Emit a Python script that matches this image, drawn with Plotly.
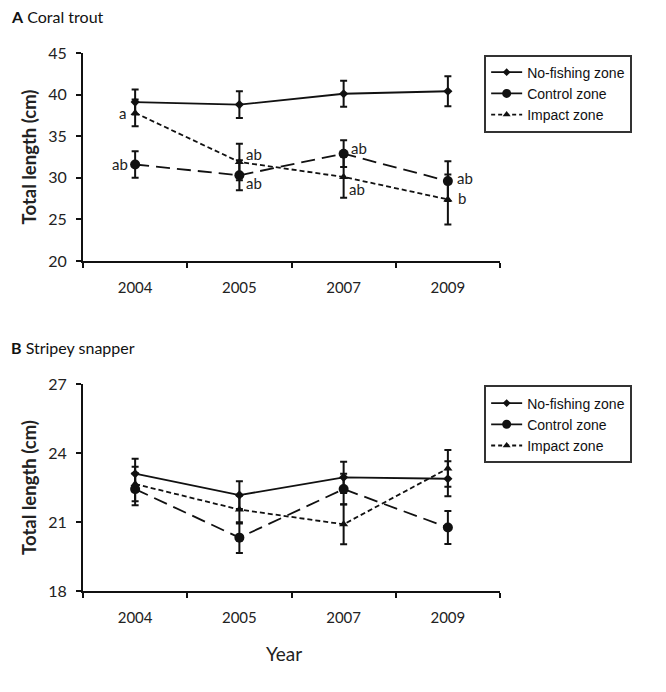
import plotly.graph_objects as go

years = ["2004", "2005", "2007", "2009"]

# Panel A: Coral trout
nf_a = [39.1, 38.8, 40.1, 40.4]
nf_a_err = [1.5, 1.6, 1.55, 1.8]
ctrl_a = [31.6, 30.3, 32.9, 29.6]
ctrl_a_err = [1.6, 1.8, 1.6, 2.4]
imp_a = [37.8, 31.9, 30.1, 27.4]
imp_a_err = [1.6, 2.2, 2.5, 3.0]
ctrl_a_labels = ["ab", "ab", "ab", "ab"]
imp_a_labels = ["a", "ab", "ab", "b"]

# Panel B: Stripey snapper
nf_b = [23.1, 22.17, 22.94, 22.88]
nf_b_err = [0.65, 0.6, 0.68, 0.76]
ctrl_b = [22.43, 20.32, 22.43, 20.76]
ctrl_b_err = [0.7, 0.67, 0.67, 0.72]
imp_b = [22.65, 21.54, 20.9, 23.33]
imp_b_err = [0.75, 0.6, 0.87, 0.8]

names = ["No-fishing zone", "Control zone", "Impact zone"]
symbols = ["diamond", "circle", "triangle-up"]
msizes = [7, 10, 8]
dashes = ["solid", "14px,7px", "5px,3px"]
BLACK = "#111111"

fig = go.Figure()

def add_series(xa, ya, vals, errs, i):
    fig.add_trace(go.Scatter(
        x=years, y=vals, xaxis=xa, yaxis=ya, mode="lines+markers",
        line=dict(color=BLACK, width=1.8, dash=dashes[i]),
        marker=dict(symbol=symbols[i], size=msizes[i], color=BLACK),
        error_y=dict(type="data", array=errs, visible=True, color=BLACK,
                     thickness=2, width=3.5),
        showlegend=False, name=names[i]))

for i, (v, e) in enumerate([(nf_a, nf_a_err), (ctrl_a, ctrl_a_err), (imp_a, imp_a_err)]):
    add_series("x", "y", v, e, i)
for i, (v, e) in enumerate([(nf_b, nf_b_err), (ctrl_b, ctrl_b_err), (imp_b, imp_b_err)]):
    add_series("x2", "y2", v, e, i)

# legend entries (solid in the reference legend except impact)
leg_dash = ["solid", "solid", "4px,3px"]
leg_size = [6, 9, 7]
for lg, xa, ya in [("legend", "x", "y"), ("legend2", "x2", "y2")]:
    for i in range(3):
        fig.add_trace(go.Scatter(
            x=[None], y=[None], xaxis=xa, yaxis=ya, mode="lines+markers",
            line=dict(color=BLACK, width=1.8, dash=leg_dash[i]),
            marker=dict(symbol=symbols[i], size=leg_size[i], color=BLACK),
            name=names[i], legend=lg, showlegend=True))

tickfont = dict(family="Lato", size=16, color="#222")
xfont = dict(family="Lato", size=15, color="#222")
ytitlefont = dict(family="Lato", size=18.5, color="#222")

axis_common = dict(showline=True, linecolor=BLACK, linewidth=2, ticks="outside",
                   tickcolor=BLACK, ticklen=5, tickwidth=2, showgrid=False,
                   zeroline=False)

fig.update_layout(
    width=658, height=684,
    margin=dict(l=75, r=166, t=45, b=101),
    paper_bgcolor="white", plot_bgcolor="white",
    xaxis=dict(domain=[0, 1], anchor="y", type="category", range=[-0.5, 3.5],
               tickson="boundaries", tickfont=xfont, ticklabelstandoff=12,
               **axis_common),
    yaxis=dict(domain=[0.6134, 1], anchor="x", range=[20, 45], dtick=5,
               tickfont=tickfont, ticklabelstandoff=6,
               title=dict(text="<b>Total length (cm)</b>", font=ytitlefont, standoff=7),
               **axis_common),
    xaxis2=dict(domain=[0, 1], anchor="y2", type="category", range=[-0.5, 3.5],
                tickson="boundaries", tickfont=xfont, ticklabelstandoff=12,
                **axis_common),
    yaxis2=dict(domain=[0, 0.3848], anchor="x2", range=[18, 27], dtick=3,
                tickfont=tickfont, ticklabelstandoff=6,
                title=dict(text="<b>Total length (cm)</b>", font=ytitlefont, standoff=7),
                **axis_common),
    legend=dict(x=0.962, y=0.997, xanchor="left", yanchor="top",
                bordercolor="#333", borderwidth=2, bgcolor="white",
                font=dict(family="Liberation Sans", size=14, color="#111"),
                itemwidth=31, tracegroupgap=0),
    legend2=dict(x=0.962, y=0.382, xanchor="left", yanchor="top",
                 bordercolor="#333", borderwidth=2, bgcolor="white",
                 font=dict(family="Liberation Sans", size=14, color="#111"),
                 itemwidth=31, tracegroupgap=0),
)

annfont = dict(family="Lato", size=15, color="#222")
# Panel A significance letters (x given as category index)
# 2004: labels on the left
fig.add_annotation(x=0, y=imp_a[0], xref="x", yref="y", text=imp_a_labels[0],
                   showarrow=False, xanchor="right", xshift=-7, font=annfont)
fig.add_annotation(x=0, y=ctrl_a[0], xref="x", yref="y", text=ctrl_a_labels[0],
                   showarrow=False, xanchor="right", xshift=-5, font=annfont)
# 2005
fig.add_annotation(x=1, y=imp_a[1], xref="x", yref="y", text=imp_a_labels[1],
                   showarrow=False, xanchor="left", xshift=5, yshift=8, font=annfont)
fig.add_annotation(x=1, y=ctrl_a[1], xref="x", yref="y", text=ctrl_a_labels[1],
                   showarrow=False, xanchor="left", xshift=5, yshift=-8, font=annfont)
# 2007
fig.add_annotation(x=2, y=ctrl_a[2], xref="x", yref="y", text=ctrl_a_labels[2],
                   showarrow=False, xanchor="left", xshift=5, yshift=6, font=annfont)
fig.add_annotation(x=2, y=imp_a[2], xref="x", yref="y", text=imp_a_labels[2],
                   showarrow=False, xanchor="left", xshift=3, yshift=-12, font=annfont)
# 2009
fig.add_annotation(x=3, y=ctrl_a[3], xref="x", yref="y", text=ctrl_a_labels[3],
                   showarrow=False, xanchor="left", xshift=7, yshift=3, font=annfont)
fig.add_annotation(x=3, y=imp_a[3], xref="x", yref="y", text=imp_a_labels[3],
                   showarrow=False, xanchor="left", xshift=8, yshift=1, font=annfont)

# Panel titles
fig.add_annotation(x=-0.1775, y=1.067, xref="paper", yref="paper",
                   text="<b>A</b> Coral trout", showarrow=False, xanchor="left",
                   yanchor="middle", font=dict(family="Lato", size=16, color="#111"))
fig.add_annotation(x=-0.1775, y=0.4517, xref="paper", yref="paper",
                   text="<b>B</b> Stripey snapper", showarrow=False, xanchor="left",
                   yanchor="middle", font=dict(family="Lato", size=16, color="#111"))
# X axis title
fig.add_annotation(x=0.483, y=-0.117, xref="paper", yref="paper",
                   text="Year", showarrow=False, xanchor="center",
                   yanchor="middle", font=dict(family="Lato", size=19, color="#222"))

fig.write_html("out.html")
